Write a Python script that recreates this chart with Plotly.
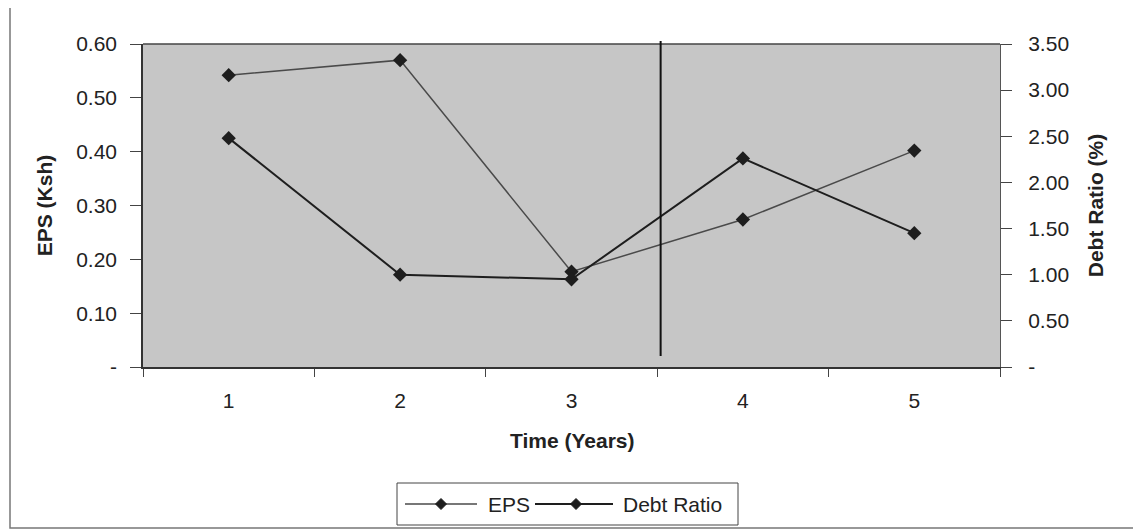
import plotly.graph_objects as go

years = ["1", "2", "3", "4", "5"]
eps = [0.542, 0.570, 0.177, 0.274, 0.402]
debt_ratio = [2.48, 1.00, 0.95, 2.26, 1.45]
series_names = ["EPS", "Debt Ratio"]

left_ticks = [0, 0.1, 0.2, 0.3, 0.4, 0.5, 0.6]
left_text = ["-", "0.10", "0.20", "0.30", "0.40", "0.50", "0.60"]
right_ticks = [0, 0.5, 1.0, 1.5, 2.0, 2.5, 3.0, 3.5]
right_text = ["-", "0.50", "1.00", "1.50", "2.00", "2.50", "3.00", "3.50"]

# page offset caused by default body margin
OFF = 8
W, H = 1141 - OFF, 532 - OFF
L, T = 143 - OFF, 44 - OFF
R = W - (1000 - OFF)
B = H - (367 - OFF)
pw, ph = W - L - R, H - T - B

def px_x(p):
    return (p - OFF - L) / pw

def px_y(p):
    return (H - B - (p - OFF)) / ph

FAM = "Liberation Sans, Arial, sans-serif"
font = dict(family=FAM, size=21, color="#222")
eps_line = dict(color="#4a4a4a", width=1.5)
debt_line = dict(color="#1e1e1e", width=2)
mk_color = "#1e1e1e"

fig = go.Figure()
fig.add_trace(go.Scatter(
    x=years, y=eps, name=series_names[0], mode="lines+markers",
    line=eps_line, marker=dict(symbol="diamond", size=11, color=mk_color),
    yaxis="y", showlegend=False))
fig.add_trace(go.Scatter(
    x=years, y=debt_ratio, name=series_names[1], mode="lines+markers",
    line=debt_line, marker=dict(symbol="diamond", size=11, color=mk_color),
    yaxis="y2", showlegend=False))

fig.update_layout(
    width=W, height=H,
    margin=dict(l=L, r=R, t=T, b=B, autoexpand=False),
    paper_bgcolor="white",
    plot_bgcolor="#c6c6c6",
    font=font,
    xaxis=dict(type="category", tickson="boundaries", ticks="outside", ticklen=8,
               tickcolor="#444", showgrid=False, showline=True, linecolor="#333", linewidth=2,
               zeroline=False, tickfont=dict(size=21), ticklabelstandoff=14,
               range=[-0.5, 4.5]),
    yaxis=dict(range=[0, 0.6], tickvals=left_ticks, ticktext=left_text,
               ticks="outside", ticklen=11, tickcolor="#444", showgrid=False,
               showline=True, linecolor="#333", linewidth=1.5, zeroline=False,
               ticklabelstandoff=9, tickfont=dict(size=21),
               title=dict(text="EPS (Ksh)", font=dict(size=21, weight="bold"), standoff=18)),
    yaxis2=dict(range=[0, 3.5], tickvals=right_ticks, ticktext=right_text,
                overlaying="y", side="right",
                ticks="outside", ticklen=11, tickcolor="#444", showgrid=False,
                showline=True, linecolor="#555", linewidth=1, zeroline=False,
                ticklabelstandoff=12, tickfont=dict(size=21),
                title=dict(text="Debt Ratio (%)", font=dict(size=21, weight="bold"), standoff=20)),
)

# top border of plot area
fig.add_shape(type="line", xref="paper", yref="paper", x0=0, x1=1, y0=1, y1=1,
              line=dict(color="#444", width=1.5))
# vertical divider line between years 3 and 4
fig.add_shape(type="line", xref="x", yref="paper", x0=2.52, x1=2.52,
              y0=px_y(356), y1=px_y(41), line=dict(color="#111", width=2))
# outer chart frame
fig.add_shape(type="rect", xref="paper", yref="paper",
              x0=px_x(10), x1=px_x(1137), y0=px_y(528), y1=px_y(-20),
              line=dict(color="#777", width=1.5))

fig.add_annotation(text="Time (Years)", xref="paper", yref="paper",
                   x=px_x(572), y=px_y(440), xanchor="center", yanchor="middle",
                   showarrow=False, font=dict(size=21, weight="bold", color="#222"))

# custom legend (long line samples as in the original)
LEG_Y = 504
fig.add_shape(type="rect", xref="paper", yref="paper",
              x0=px_x(397), x1=px_x(738), y0=px_y(525), y1=px_y(483),
              line=dict(color="#444", width=1), fillcolor="white")

def diamond(cx, cy, r=5.5):
    pts = [(cx, cy - r), (cx + r, cy), (cx, cy + r), (cx - r, cy)]
    d = "M " + " L ".join(f"{px_x(x)},{px_y(y)}" for x, y in pts) + " Z"
    return d

legend_items = [
    (series_names[0], 405, 477, 441, 486, eps_line),
    (series_names[1], 535, 613, 576, 621, debt_line),
]
for name, lx0, lx1, mx, tx, ln in legend_items:
    fig.add_shape(type="line", xref="paper", yref="paper",
                  x0=px_x(lx0), x1=px_x(lx1), y0=px_y(LEG_Y), y1=px_y(LEG_Y), line=ln)
    fig.add_shape(type="path", xref="paper", yref="paper", path=diamond(mx, LEG_Y),
                  fillcolor=mk_color, line=dict(color=mk_color, width=1))
    fig.add_annotation(text=name, xref="paper", yref="paper",
                       x=px_x(tx), y=px_y(LEG_Y), xanchor="left", yanchor="middle",
                       showarrow=False, font=dict(size=21, color="#222"))

fig.write_html("out.html")
